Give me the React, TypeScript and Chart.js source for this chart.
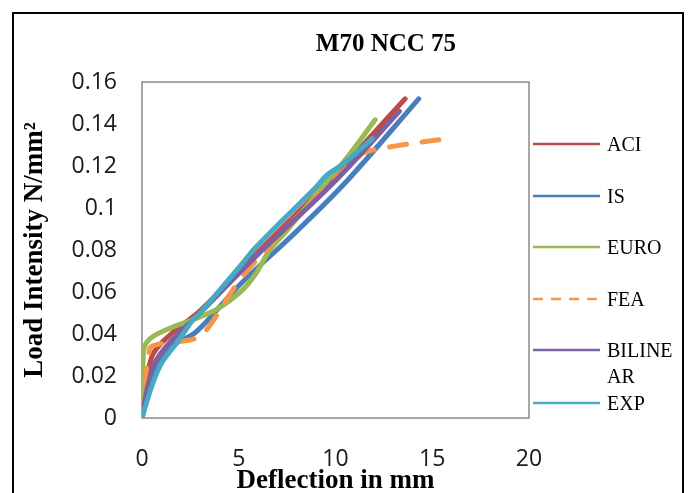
import React, { useEffect, useRef } from 'react';
import { Chart, registerables } from 'chart.js';

Chart.register(...registerables);

// ---- data ----
const chartTitle = 'M70 NCC 75';
const xAxisTitle = 'Deflection in mm';
const yAxisTitle = 'Load Intensity N/mm²';

const seriesNames = ['ACI', 'IS', 'EURO', 'FEA', 'BILINEAR', 'EXP'];
const seriesColors = ['#BE4B48', '#4A7EBB', '#98B954', '#F79646', '#7D60A0', '#46AAC5'];

const aciX = [0, 0.5, 1.5, 3, 6, 10, 13.6];
const aciY = [0, 0.029, 0.04, 0.051, 0.079, 0.116, 0.152];

const isX = [0, 0.3, 0.8, 1.5, 2.8, 5, 8, 10.6, 14.3];
const isY = [0, 0.012, 0.024, 0.034, 0.041, 0.063, 0.089, 0.113, 0.152];

const euroX = [0, 0.08, 0.45, 1.5, 2.4, 3.9, 5.2, 5.9, 6.6, 7.5, 9.5, 10.6, 12.05];
const euroY = [0, 0.032, 0.038, 0.043, 0.046, 0.052, 0.061, 0.069, 0.08, 0.0895, 0.112, 0.124, 0.142];

const feaX = [0, 0.4, 0.8, 2.4, 3.0, 3.5, 5.0, 6.4, 8.2, 9.9, 11.4, 11.9, 13.2, 15.5];
const feaY = [0, 0.033, 0.035, 0.037, 0.039, 0.044, 0.065, 0.08, 0.0975, 0.113, 0.126, 0.1275, 0.1297, 0.1327];

const bilinearX = [0, 0.3, 0.65, 1.35, 3, 6, 10, 13.3];
const bilinearY = [0, 0.015, 0.026, 0.035, 0.05, 0.078, 0.113, 0.146];

const expX = [0, 0.5, 1.0, 1.9, 2.65, 3.0, 5.2, 5.75, 7.1, 8.9, 9.6, 10.4, 11.9];
const expY = [0, 0.015, 0.026, 0.037, 0.047, 0.05, 0.0737, 0.08, 0.0927, 0.109, 0.116, 0.121, 0.133];

const xTicks = [0, 5, 10, 15, 20];
const xTickLabels = ['0', '5', '10', '15', '20'];
const yTicks = [0, 0.02, 0.04, 0.06, 0.08, 0.1, 0.12, 0.14, 0.16];
const yTickLabels = ['0', '0.02', '0.04', '0.06', '0.08', '0.1', '0.12', '0.14', '0.16'];

const seriesXs = [aciX, isX, euroX, feaX, bilinearX, expX];
const seriesYs = [aciY, isY, euroY, feaY, bilinearY, expY];

const legendTop = [144, 196, 247, 299, 350, 403];

const plotBorder = {
  id: 'plotBorder',
  beforeDatasetsDraw(chart: any) {
    const { ctx, chartArea } = chart;
    ctx.save();
    ctx.strokeStyle = '#8a8a8a';
    ctx.lineWidth = 1.5;
    ctx.strokeRect(chartArea.left, chartArea.top, chartArea.right - chartArea.left, chartArea.bottom - chartArea.top);
    ctx.restore();
  },
};

const tickFont = { family: '"Open Sans", sans-serif', size: 23 };
const titleFont = { family: '"Liberation Serif", serif', size: 27, weight: 'bold' as const, lineHeight: 0.9 };

export default function App() {
  const canvasRef = useRef<HTMLCanvasElement | null>(null);

  useEffect(() => {
    if (!canvasRef.current) return;
    const datasets = seriesNames.map((name, i) => ({
      label: name,
      data: seriesXs[i].map((x, j) => ({ x, y: seriesYs[i][j] })),
      borderColor: seriesColors[i],
      backgroundColor: seriesColors[i],
      borderWidth: 5,
      borderDash: name === 'FEA' ? [17, 16] : [],
      borderCapStyle: 'round' as const,
      showLine: true,
      tension: 0.35,
      pointRadius: 0,
      fill: false,
      order: seriesNames.length - i,
    }));

    const chart = new Chart(canvasRef.current, {
      type: 'scatter',
      data: { datasets },
      options: {
        animation: false,
        responsive: false,
        maintainAspectRatio: false,
        layout: { padding: { top: 82, right: 159, left: 0, bottom: 0 } },
        plugins: {
          legend: { display: false },
          title: { display: false },
          tooltip: { enabled: false },
        },
        scales: {
          x: {
            type: 'linear',
            min: 0,
            max: 20,
            afterBuildTicks: (s: any) => {
              s.ticks = xTicks.map((v) => ({ value: v }));
            },
            afterFit: (s: any) => {
              s.height = 75;
            },
            grid: { display: false, drawTicks: false },
            border: { display: false },
            ticks: {
              padding: 28,
              color: '#1a1a1a',
              font: tickFont,
              maxRotation: 0,
              callback: (_v: any, i: number) => xTickLabels[i],
            },
            title: {
              display: true,
              text: xAxisTitle,
              color: '#000',
              font: titleFont,
              padding: 0,
            },
          },
          y: {
            type: 'linear',
            min: 0,
            max: 0.16,
            afterBuildTicks: (s: any) => {
              s.ticks = yTicks.map((v) => ({ value: v }));
            },
            afterFit: (s: any) => {
              s.width = 142;
            },
            grid: { display: false, drawTicks: false },
            border: { display: false },
            ticks: {
              padding: 25,
              color: '#1a1a1a',
              font: tickFont,
              callback: (_v: any, i: number) => yTickLabels[i],
            },
            title: {
              display: true,
              text: yAxisTitle,
              color: '#000',
              font: { ...titleFont, lineHeight: 1 },
              padding: { top: 22, bottom: 0 },
            },
          },
        },
      },
      plugins: [plotBorder],
    });
    return () => chart.destroy();
  }, []);

  return (
    <div
      style={{
        position: 'fixed',
        left: 0,
        top: 0,
        width: 688,
        height: 493,
        overflow: 'hidden',
        background: '#fff',
      }}
    >
      <div
        style={{
          position: 'absolute',
          left: 12,
          top: 12,
          width: 668,
          height: 520,
          border: '2.5px solid #000',
        }}
      />
      <canvas ref={canvasRef} width={688} height={493} style={{ position: 'absolute', left: 0, top: 0, width: 688, height: 493 }} />
      <div
        style={{
          position: 'absolute',
          left: 0,
          width: 772,
          top: 28,
          textAlign: 'center',
          fontFamily: '"Liberation Serif", serif',
          fontWeight: 'bold',
          fontSize: 25,
          lineHeight: '30px',
          color: '#000',
        }}
      >
        {chartTitle}
      </div>
      {seriesNames.map((name, i) => (
        <div key={name} style={{ position: 'absolute', left: 532, top: legendTop[i] - 13, height: 26 }}>
          <svg width={70} height={26} style={{ position: 'absolute', left: 0, top: 0 }}>
            <line
              x1={1}
              y1={13}
              x2={68}
              y2={13}
              stroke={seriesColors[i]}
              strokeWidth={2.5}
              strokeDasharray={name === 'FEA' ? '10 8' : undefined}
            />
          </svg>
          <div
            style={{
              position: 'absolute',
              left: 75,
              top: 0,
              fontFamily: '"Liberation Serif", serif',
              fontSize: 20,
              lineHeight: '26px',
              color: '#000',
              whiteSpace: 'nowrap',
            }}
          >
            {name === 'BILINEAR' ? (
              <>
                BILINE
                <br />
                AR
              </>
            ) : (
              name
            )}
          </div>
        </div>
      ))}
    </div>
  );
}
